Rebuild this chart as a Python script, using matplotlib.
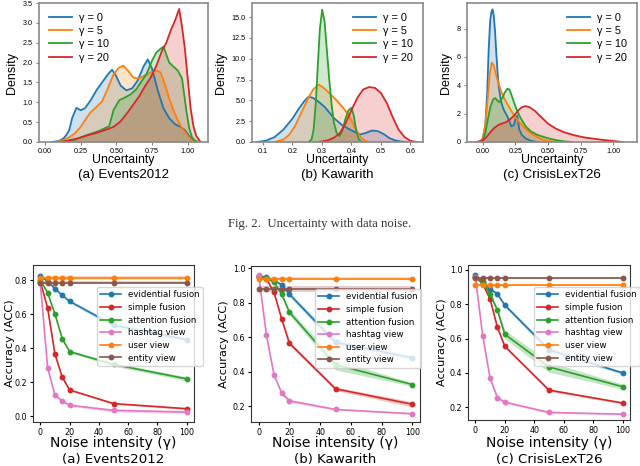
import matplotlib.pyplot as plt

# ---- top row: uncertainty densities ----
gamma_labels = ['γ = 0', 'γ = 5', 'γ = 10', 'γ = 20']
kde_colors = ['#1f77b4', '#ff7f0e', '#2ca02c', '#d62728']

# Events2012
ev_g0_x = [0.05, 0.10, 0.13, 0.15, 0.17, 0.19, 0.22, 0.25, 0.28, 0.32, 0.36, 0.40, 0.44, 0.47, 0.50, 0.53,
           0.57, 0.61, 0.65, 0.69, 0.72, 0.75, 0.79, 0.83, 0.87, 0.91, 0.95, 0.98, 1.01, 1.04, 1.07]
ev_g0_y = [0.0, 0.03, 0.09, 0.18, 0.30, 0.60, 0.86, 0.80, 0.85, 1.05, 1.30, 1.50, 1.70, 1.82, 1.65, 1.42,
           1.30, 1.35, 1.55, 1.90, 2.08, 1.85, 1.30, 0.85, 0.60, 0.45, 0.38, 0.30, 0.15, 0.05, 0.0]
ev_g5_x = [0.08, 0.13, 0.17, 0.21, 0.25, 0.29, 0.32, 0.36, 0.40, 0.44, 0.48, 0.52, 0.55, 0.58, 0.62, 0.66,
           0.70, 0.74, 0.78, 0.81, 0.84, 0.87, 0.90, 0.93, 0.96, 0.99, 1.02, 1.05]
ev_g5_y = [0.0, 0.05, 0.12, 0.22, 0.38, 0.60, 0.75, 0.88, 1.02, 1.35, 1.70, 1.88, 1.92, 1.80, 1.62, 1.60,
           1.68, 1.75, 1.80, 1.75, 1.45, 1.10, 0.80, 0.55, 0.35, 0.20, 0.07, 0.0]
ev_g10_x = [0.10, 0.16, 0.21, 0.29, 0.34, 0.38, 0.45, 0.48, 0.52, 0.56, 0.60, 0.64, 0.68, 0.71, 0.75, 0.78,
            0.81, 0.83, 0.85, 0.87, 0.90, 0.93, 0.96, 0.99, 1.01, 1.03, 1.05, 1.07]
ev_g10_y = [0.0, 0.03, 0.06, 0.17, 0.23, 0.28, 0.40, 0.80, 1.05, 1.12, 1.20, 1.33, 1.55, 1.70, 2.05, 2.25,
            2.35, 2.40, 2.20, 2.00, 1.90, 1.80, 1.60, 0.80, 0.35, 0.12, 0.04, 0.0]
ev_g20_x = [0.12, 0.18, 0.24, 0.30, 0.36, 0.42, 0.48, 0.53, 0.58, 0.62, 0.66, 0.70, 0.74, 0.78, 0.82, 0.85,
            0.88, 0.91, 0.94, 0.96, 0.98, 1.00, 1.02, 1.04, 1.06, 1.09]
ev_g20_y = [0.0, 0.05, 0.10, 0.17, 0.23, 0.30, 0.38, 0.52, 0.75, 0.95, 1.15, 1.40, 1.62, 1.92, 2.30, 2.50,
            2.80, 3.05, 3.35, 2.90, 2.35, 1.60, 0.85, 0.40, 0.15, 0.0]

# Kawarith
kw_g0_x = [0.08, 0.11, 0.14, 0.17, 0.20, 0.22, 0.24, 0.255, 0.27, 0.29, 0.31, 0.34, 0.37, 0.40, 0.43, 0.45,
           0.47, 0.49, 0.51, 0.53, 0.55, 0.57, 0.59]
kw_g0_y = [0.0, 0.15, 0.6, 1.5, 2.8, 3.9, 4.9, 5.45, 5.3, 4.8, 4.2, 2.9, 2.0, 1.4, 0.9, 1.1,
           1.38, 1.3, 0.95, 0.45, 0.18, 0.05, 0.0]
kw_g5_x = [0.14, 0.17, 0.19, 0.21, 0.23, 0.25, 0.27, 0.29, 0.31, 0.33, 0.35, 0.37, 0.39, 0.41, 0.42, 0.43,
           0.44, 0.45, 0.46]
kw_g5_y = [0.0, 0.3, 0.9, 2.0, 3.5, 5.0, 6.3, 6.9, 6.4, 5.7, 5.0, 4.2, 3.3, 1.9, 1.2, 0.65,
           0.3, 0.1, 0.0]
kw_g10_x = [0.255, 0.265, 0.272, 0.279, 0.286, 0.293, 0.301, 0.309, 0.317, 0.325, 0.333, 0.341, 0.350, 0.360,
            0.370, 0.380, 0.390, 0.400, 0.408, 0.416, 0.424, 0.432]
kw_g10_y = [0.0, 0.3, 1.5, 4.5, 9.0, 13.5, 15.9, 14.5, 11.0, 7.5, 4.5, 2.3, 1.1, 0.7,
            1.4, 2.8, 3.8, 4.1, 3.2, 1.5, 0.4, 0.05]
kw_g20_x = [0.29, 0.32, 0.34, 0.36, 0.38, 0.40, 0.42, 0.44, 0.46, 0.48, 0.50, 0.52, 0.54, 0.56, 0.58, 0.60,
            0.62]
kw_g20_y = [0.0, 0.2, 0.5, 1.0, 2.2, 3.8, 5.3, 6.3, 6.6, 6.5, 5.9, 4.7, 3.0, 1.5, 0.6, 0.15,
            0.0]

# CrisisLexT26
cr_g0_x = [-0.02, 0.0, 0.02, 0.035, 0.046, 0.058, 0.068, 0.076, 0.085, 0.095, 0.105, 0.115, 0.125, 0.14,
           0.16, 0.19, 0.22, 0.24, 0.255, 0.265, 0.28, 0.30, 0.33, 0.37, 0.42]
cr_g0_y = [0.0, 0.25, 1.1, 3.5, 6.5, 8.6, 9.2, 9.35, 8.9, 7.8, 6.2, 4.8, 3.8, 2.9,
           2.3, 1.8, 1.1, 1.2, 1.75, 1.85, 0.9, 0.5, 0.25, 0.08, 0.0]
cr_g5_x = [-0.02, 0.0, 0.02, 0.04, 0.055, 0.07, 0.085, 0.10, 0.12, 0.14, 0.17, 0.20, 0.24, 0.28, 0.32,
           0.36, 0.40, 0.45, 0.50, 0.55]
cr_g5_y = [0.0, 0.2, 1.2, 3.2, 4.8, 5.6, 5.4, 4.8, 4.2, 3.6, 3.0, 2.5, 1.9, 1.4, 1.0,
           0.7, 0.45, 0.2, 0.07, 0.0]
cr_g10_x = [-0.02, 0.0, 0.02, 0.04, 0.06, 0.08, 0.097, 0.11, 0.13, 0.15, 0.17, 0.19, 0.205, 0.22, 0.24,
            0.26, 0.29, 0.33, 0.37, 0.42, 0.47, 0.52, 0.57, 0.62, 0.68]
cr_g10_y = [0.0, 0.1, 0.6, 1.6, 2.5, 3.0, 3.1, 2.95, 2.8, 3.1, 3.5, 3.75, 3.7, 3.35, 2.8,
            2.3, 1.7, 1.1, 0.75, 0.5, 0.35, 0.22, 0.12, 0.05, 0.0]
cr_g20_x = [-0.05, 0.0, 0.03, 0.06, 0.09, 0.12, 0.15, 0.18, 0.21, 0.24, 0.27, 0.30, 0.33, 0.36, 0.40,
            0.45, 0.50, 0.56, 0.62, 0.70, 0.78, 0.86, 0.94, 1.0, 1.07]
cr_g20_y = [0.0, 0.1, 0.35, 0.7, 1.0, 1.2, 1.3, 1.4, 1.6, 1.85, 2.2, 2.45, 2.53, 2.45, 2.2,
            1.75, 1.3, 0.95, 0.7, 0.48, 0.32, 0.22, 0.13, 0.07, 0.0]

# ---- bottom row: accuracy vs noise intensity ----
noise = [0, 5, 10, 15, 20, 50, 100]
view_labels = ['evidential fusion', 'simple fusion', 'attention fusion',
               'hashtag view', 'user view', 'entity view']
view_colors = ['#1f77b4', '#d62728', '#2ca02c', '#e377c2', '#ff7f0e', '#8c564b']

# Events2012
ev_evid = [0.825, 0.79, 0.75, 0.71, 0.675, 0.535, 0.45]
ev_simple = [0.79, 0.635, 0.365, 0.23, 0.155, 0.075, 0.045]
ev_att = [0.80, 0.725, 0.60, 0.455, 0.38, 0.305, 0.22]
ev_hash = [0.78, 0.285, 0.125, 0.09, 0.065, 0.035, 0.025]
ev_user = [0.81, 0.81, 0.81, 0.81, 0.81, 0.81, 0.81]
ev_entity = [0.785, 0.785, 0.785, 0.785, 0.785, 0.785, 0.785]
ev_evid_sd = [0.003, 0.004, 0.005, 0.006, 0.008, 0.012, 0.010]
ev_simple_sd = [0.003, 0.004, 0.005, 0.005, 0.005, 0.005, 0.005]
ev_att_sd = [0.003, 0.004, 0.005, 0.006, 0.008, 0.010, 0.012]
ev_hash_sd = [0.003, 0.004, 0.005, 0.006, 0.007, 0.010, 0.010]
ev_user_sd = [0.011, 0.011, 0.011, 0.011, 0.011, 0.011, 0.011]
ev_entity_sd = [0.011, 0.011, 0.011, 0.011, 0.011, 0.011, 0.011]

# Kawarith
kw_evid = [0.955, 0.95, 0.93, 0.905, 0.85, 0.57, 0.48]
kw_simple = [0.95, 0.94, 0.86, 0.705, 0.565, 0.30, 0.21]
kw_att = [0.955, 0.945, 0.92, 0.85, 0.745, 0.44, 0.325]
kw_hash = [0.96, 0.615, 0.38, 0.275, 0.23, 0.18, 0.155]
kw_user = [0.94, 0.94, 0.94, 0.94, 0.94, 0.94, 0.94]
kw_entity = [0.88, 0.88, 0.88, 0.88, 0.88, 0.88, 0.88]
kw_evid_sd = [0.004, 0.005, 0.006, 0.010, 0.012, 0.020, 0.010]
kw_simple_sd = [0.004, 0.005, 0.006, 0.008, 0.012, 0.010, 0.015]
kw_att_sd = [0.004, 0.005, 0.006, 0.010, 0.015, 0.030, 0.010]
kw_hash_sd = [0.004, 0.005, 0.006, 0.010, 0.010, 0.006, 0.005]
kw_user_sd = [0.008, 0.008, 0.008, 0.008, 0.008, 0.008, 0.008]
kw_entity_sd = [0.018, 0.018, 0.018, 0.018, 0.018, 0.018, 0.018]

# CrisisLexT26
cr_evid = [0.97, 0.93, 0.89, 0.86, 0.795, 0.535, 0.40]
cr_simple = [0.96, 0.92, 0.83, 0.665, 0.555, 0.30, 0.225]
cr_att = [0.96, 0.93, 0.86, 0.765, 0.625, 0.435, 0.32]
cr_hash = [0.96, 0.615, 0.37, 0.255, 0.23, 0.17, 0.16]
cr_user = [0.915, 0.915, 0.915, 0.915, 0.915, 0.915, 0.915]
cr_entity = [0.955, 0.955, 0.955, 0.955, 0.955, 0.955, 0.955]
cr_evid_sd = [0.004, 0.005, 0.006, 0.008, 0.010, 0.015, 0.008]
cr_simple_sd = [0.004, 0.005, 0.006, 0.008, 0.008, 0.008, 0.006]
cr_att_sd = [0.004, 0.005, 0.008, 0.012, 0.025, 0.030, 0.015]
cr_hash_sd = [0.004, 0.005, 0.006, 0.012, 0.008, 0.006, 0.005]
cr_user_sd = [0.006, 0.006, 0.006, 0.006, 0.006, 0.006, 0.006]
cr_entity_sd = [0.007, 0.007, 0.007, 0.007, 0.007, 0.007, 0.007]

W, H = 640, 466
fig = plt.figure(figsize=(W / 100, H / 100), dpi=100)


def add_px_axes(x0, y0, x1, y1):
    return fig.add_axes([x0 / W, 1 - y1 / H, (x1 - x0) / W, (y1 - y0) / H])


def fig_text(x, y, s, **kw):
    fig.text(x / W, 1 - y / H, s, ha='center', va='center', **kw)


top_font = 'Liberation Sans'


def kde_panel(box, curves, xlim, ylim, xticks, yticks, xfmt, yfmt, title, loc):
    ax = add_px_axes(*box)
    for (x, y), c, lab in zip(curves, kde_colors, gamma_labels):
        ax.fill_between(x, y, color=c, alpha=0.22, lw=0)
        ax.plot(x, y, color=c, lw=1.3, label=lab)
    ax.set_xlim(*xlim)
    ax.set_ylim(*ylim)
    ax.set_xticks(xticks)
    ax.set_xticklabels([xfmt.format(v) for v in xticks])
    ax.set_yticks(yticks)
    ax.set_yticklabels([yfmt.format(v) for v in yticks])
    for lab in ax.get_xticklabels() + ax.get_yticklabels():
        lab.set_family(top_font)
        lab.set_fontsize(5.2)
    ax.tick_params(length=2.5, width=0.8, color='#808080', pad=2)
    for s in ax.spines.values():
        s.set_color('#8a8a8a')
        s.set_linewidth(1.2)
    ax.set_ylabel('Density', family=top_font, fontsize=9, labelpad=3)
    ax.legend(loc=loc, frameon=False, handlelength=2.1, handletextpad=0.7,
              labelspacing=0.3, prop={'family': top_font, 'size': 7.8})
    cx = (box[0] + box[2]) / 2
    fig_text(cx, 160, 'Uncertainty', family=top_font, fontsize=8.8)
    fig_text(cx, 175, title, family=top_font, fontsize=9.6)
    return ax


kde_panel((39, 3, 208, 142),
          [(ev_g0_x, ev_g0_y), (ev_g5_x, ev_g5_y), (ev_g10_x, ev_g10_y), (ev_g20_x, ev_g20_y)],
          (-0.042, 1.142), (0, 3.5), [0, 0.25, 0.5, 0.75, 1.0], [0, 0.5, 1, 1.5, 2, 2.5, 3, 3.5],
          '{:.2f}', '{:.1f}', '(a) Events2012', 'upper left')
kde_panel((252, 3, 423, 142),
          [(kw_g0_x, kw_g0_y), (kw_g5_x, kw_g5_y), (kw_g10_x, kw_g10_y), (kw_g20_x, kw_g20_y)],
          (0.063, 0.643), (0, 16.7), [0.1, 0.2, 0.3, 0.4, 0.5, 0.6], [0, 2.5, 5, 7.5, 10, 12.5, 15],
          '{:.1f}', '{:.1f}', '(b) Kawarith', 'upper right')
kde_panel((467, 3, 637, 142),
          [(cr_g0_x, cr_g0_y), (cr_g5_x, cr_g5_y), (cr_g10_x, cr_g10_y), (cr_g20_x, cr_g20_y)],
          (-0.12, 1.183), (0, 9.8), [0, 0.25, 0.5, 0.75, 1.0], [0, 2, 4, 6, 8],
          '{:.2f}', '{:.0f}', '(c) CrisisLexT26', 'upper right')

fig_text(320, 224, 'Fig. 2.  Uncertainty with data noise.', family='Liberation Serif',
         fontsize=9.2, color='#333333')


def acc_panel(box, series, bands, ylim, yticks, title, anchor, label_right):
    ax = add_px_axes(*box)
    for y, sd, c, lab in zip(series, bands, view_colors, view_labels):
        lo = [a - b for a, b in zip(y, sd)]
        hi = [a + b for a, b in zip(y, sd)]
        ax.fill_between(noise, lo, hi, color=c, alpha=0.28, lw=0)
        ax.plot(noise, y, color=c, lw=1.2, marker='o', ms=3.2, label=lab)
    ax.set_xlim(-5, 105)
    ax.set_ylim(*ylim)
    ax.set_xticks([0, 20, 40, 60, 80, 100])
    ax.set_yticks(yticks)
    ax.tick_params(labelsize=5.8, length=2.5, pad=1.5)
    for s in ax.spines.values():
        s.set_color('#333333')
        s.set_linewidth(0.8)
    ax.set_ylabel('Accuracy (ACC)', fontsize=8.2)
    ax.yaxis.set_label_coords((label_right - box[0]) / (box[2] - box[0]), 0.5)
    ax.legend(loc='upper right', bbox_to_anchor=anchor, borderaxespad=0, fontsize=6.2,
              handlelength=2.4, labelspacing=0.42, framealpha=0.8)
    cx = (box[0] + box[2]) / 2
    fig_text(cx, 443, 'Noise intensity (γ)', fontsize=10)
    fig_text(cx, 460, title, fontsize=9.6)
    return ax


acc_panel((33, 265, 194, 422),
          [ev_evid, ev_simple, ev_att, ev_hash, ev_user, ev_entity],
          [ev_evid_sd, ev_simple_sd, ev_att_sd, ev_hash_sd, ev_user_sd, ev_entity_sd],
          (-0.033, 0.888), [0.0, 0.2, 0.4, 0.6, 0.8], '(a) Events2012', (1.056, 0.86), 15)
acc_panel((251, 266, 420, 422),
          [kw_evid, kw_simple, kw_att, kw_hash, kw_user, kw_entity],
          [kw_evid_sd, kw_simple_sd, kw_att_sd, kw_hash_sd, kw_user_sd, kw_entity_sd],
          (0.107, 1.014), [0.2, 0.4, 0.6, 0.8, 1.0], '(b) Kawarith', (1.006, 0.853), 229)
acc_panel((468, 265, 630, 420),
          [cr_evid, cr_simple, cr_att, cr_hash, cr_user, cr_entity],
          [cr_evid_sd, cr_simple_sd, cr_att_sd, cr_hash_sd, cr_user_sd, cr_entity_sd],
          (0.126, 1.029), [0.2, 0.4, 0.6, 0.8, 1.0], '(c) CrisisLexT26', (1.062, 0.858), 447)

fig.savefig('out.png', dpi=100)
